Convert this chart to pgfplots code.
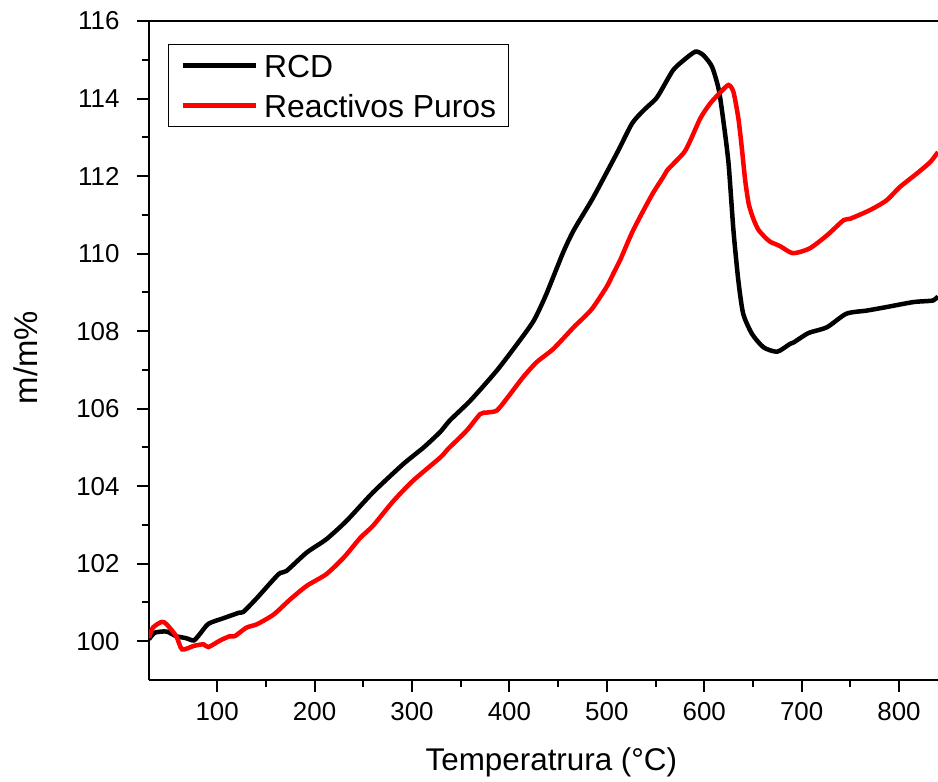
\documentclass[border=0pt]{standalone}
\usepackage{fontspec}
\setmainfont{Liberation Sans}
\usepackage{pgfplots}
\pgfplotsset{compat=1.18}
\begin{document}
\begin{tikzpicture}
\begin{axis}[
  scale only axis,
  width=789bp, height=659bp,
  xmin=30, xmax=840, ymin=99, ymax=116,
  axis x line=box, axis y line=left,
  y axis line style={-},
  axis line style={line width=2.2bp},
  xtick={100,200,...,800},
  ytick={100,102,...,116},
  minor x tick num=1, minor y tick num=1,
  xtick pos=lower, ytick pos=left,
  tick align=outside,
  major tick length=12bp, minor tick length=7bp,
  every tick/.style={black, line width=2bp},
  /pgf/number format/assume math mode=true,
  tick label style={font=\fontsize{26}{30}\selectfont},
  yticklabel style={xshift=-14bp},
  xticklabel style={yshift=-7bp},
  xlabel={Temperatrura (°C)},
  ylabel={m/m\%},
  xlabel style={at={(axis description cs:0.51,-0.138)}, anchor=base, font=\fontsize{31.5}{36}\selectfont},
  ylabel style={at={(axis description cs:-0.156,0.489)}, anchor=center, font=\fontsize{33}{38}\selectfont},
  legend cell align=left,
  legend image code/.code={\draw[#1] (0bp,0bp) -- (73bp,0bp);},
  legend style={at={(axis description cs:0,1)}, anchor=north west, xshift=19bp, yshift=-23bp,
    draw=black, line width=1.2bp, inner xsep=12bp, inner ysep=7bp,
    font=\fontsize{32}{38}\selectfont, row sep=12bp, column sep=6bp,
    nodes={inner sep=0pt, text height=26bp, text depth=2bp}},
]
\addplot[black, line width=4.5bp, smooth, tension=0.4] coordinates {
(30,100.05) (36,100.22) (48,100.25) (58,100.13) (68,100.08) (76,100.02) (82,100.18) (91,100.45) (106,100.59) (123,100.74) (127,100.76) (141,101.12) (163,101.73) (171,101.81) (192,102.29) (212,102.63) (233,103.11) (260,103.84) (291,104.57) (312,105.0) (329,105.4) (339,105.7) (360,106.21) (387,106.98) (408,107.67) (425,108.27) (438,108.96) (455,110.02) (466,110.6) (485,111.4) (500,112.1) (512,112.67) (526,113.36) (538,113.7) (550,113.98) (555,114.17) (568,114.73) (579,114.99) (591,115.21) (599,115.12) (608,114.82) (615,114.22) (620,113.36) (625,112.32) (630,110.6) (635,109.31) (640,108.45) (649,107.93) (661,107.58) (675,107.47) (688,107.67) (692,107.71) (707,107.95) (726,108.1) (746,108.45) (767,108.53) (787,108.62) (815,108.75) (835,108.79) (840,108.9)
};
\addlegendentry{RCD}
\addplot[red, line width=4.5bp, smooth, tension=0.4] coordinates {
(30,100.09) (34,100.35) (43,100.5) (48,100.44) (58,100.13) (64,99.79) (76,99.88) (86,99.92) (91,99.85) (103,100.02) (113,100.13) (118,100.13) (130,100.35) (141,100.44) (158,100.69) (175,101.08) (192,101.43) (212,101.73) (230,102.16) (247,102.67) (260,102.98) (281,103.62) (301,104.14) (329,104.74) (337,104.96) (356,105.43) (370,105.86) (377,105.9) (387,105.95) (397,106.25) (414,106.81) (428,107.2) (445,107.54) (466,108.1) (473,108.27) (485,108.58) (500,109.15) (507,109.5) (514,109.85) (527,110.6) (546,111.5) (558,111.98) (562,112.15) (579,112.6) (586,112.93) (596,113.49) (606,113.87) (617,114.17) (625,114.35) (630,114.17) (635,113.5) (638.5,112.75) (642,111.9) (645.5,111.3) (649,111.0) (652,110.8) (656,110.6) (664,110.38) (668,110.3) (678,110.19) (691,110.01) (708,110.13) (726,110.47) (743,110.86) (750,110.9) (770,111.12) (787,111.37) (801,111.72) (818,112.06) (832,112.36) (840,112.62)
};
\addlegendentry{Reactivos Puros}
\end{axis}
\pgfresetboundingbox
\path ([shift={(-149bp,-102bp)}]current axis.south west) rectangle ([shift={(0bp,21bp)}]current axis.north east);
\end{tikzpicture}
\end{document}
